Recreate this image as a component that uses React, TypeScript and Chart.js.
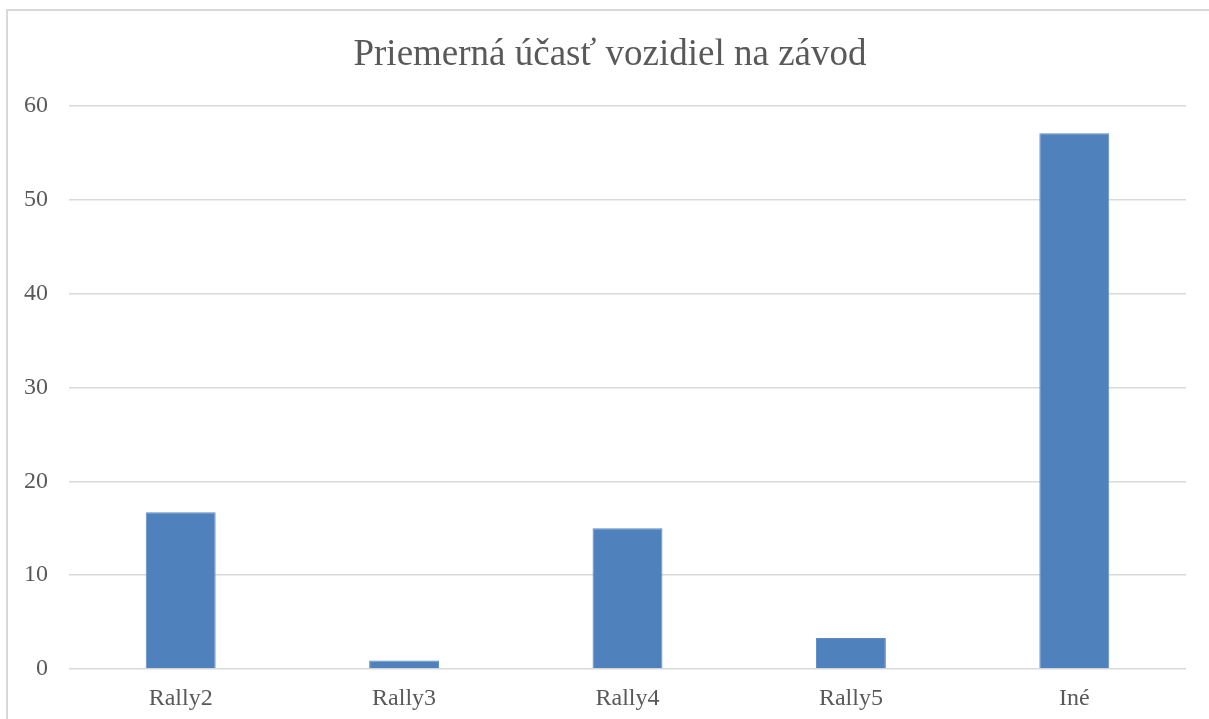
import React, { useEffect, useRef } from "react";
import { Chart, registerables } from "chart.js";

Chart.register(...registerables);

const title = "Priemerná účasť vozidiel na závod";
const categories = ["Rally2", "Rally3", "Rally4", "Rally5", "Iné"];
const values = [16.7, 0.9, 15.0, 3.3, 57.1];
const yTicks = { min: 0, max: 60, step: 10 };

const FONT = "'Liberation Serif', 'Times New Roman', serif";
const TEXT = "#595959";
const GRID = "#d9d9d9";

const titlePlugin = {
  id: "customTitle",
  afterDraw(chart: any) {
    const ctx = chart.ctx;
    ctx.save();
    ctx.fillStyle = TEXT;
    ctx.font = `37px ${FONT}`;
    ctx.textAlign = "center";
    ctx.textBaseline = "alphabetic";
    ctx.fillText(title, 610, 65);
    ctx.restore();
  },
};

export default function App() {
  const ref = useRef<HTMLCanvasElement | null>(null);

  useEffect(() => {
    if (!ref.current) return;
    const chart = new Chart(ref.current, {
      type: "bar",
      data: {
        labels: categories,
        datasets: [
          {
            data: values,
            backgroundColor: "#4f81bd",
            borderColor: "#5a8bc6",
            borderWidth: 1,
            barPercentage: 0.313,
            categoryPercentage: 1,
          },
        ],
      },
      plugins: [titlePlugin],
      options: {
        animation: false,
        responsive: false,
        maintainAspectRatio: false,
        layout: { padding: { left: 0, right: 23, top: 106, bottom: 0 } },
        plugins: {
          legend: { display: false },
          tooltip: { enabled: false },
          title: { display: false },
        },
        scales: {
          x: {
            grid: { display: false },
            border: { display: false },
            ticks: {
              color: TEXT,
              font: { family: FONT, size: 24 },
              padding: 7,
              maxRotation: 0,
            },
            afterFit: (s: any) => {
              s.height = 50;
            },
          },
          y: {
            min: yTicks.min,
            max: yTicks.max,
            grid: { color: GRID, lineWidth: 1.5, drawTicks: false },
            border: { display: false },
            ticks: {
              stepSize: yTicks.step,
              color: TEXT,
              font: { family: FONT, size: 24 },
              padding: 21,
            },
            afterFit: (s: any) => {
              s.width = 69;
            },
          },
        },
      },
    });
    return () => chart.destroy();
  }, []);

  return (
    <div
      style={{
        position: "fixed",
        left: 0,
        top: 0,
        width: 1209,
        height: 719,
        overflow: "hidden",
        background: "#fff",
      }}
    >
      <div
        style={{
          position: "absolute",
          left: 6,
          top: 9,
          width: 1230,
          height: 800,
          border: "2px solid #d9d9d9",
          boxSizing: "border-box",
        }}
      />
      <canvas
        ref={ref}
        width={1209}
        height={719}
        style={{ position: "absolute", left: 0, top: 0, width: 1209, height: 719 }}
      />
    </div>
  );
}
